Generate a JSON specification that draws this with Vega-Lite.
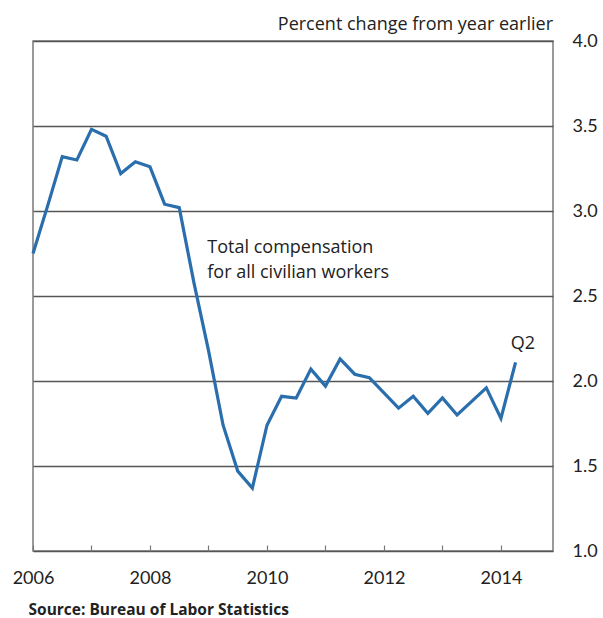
{
  "$schema": "https://vega.github.io/schema/vega-lite/v6.json",
  "width": 520,
  "height": 510,
  "autosize": {"type": "none"},
  "padding": {"left": 33, "top": 41, "right": 50, "bottom": 67},
  "background": "white",
  "config": {"view": {"stroke": "#7a7a7a", "strokeWidth": 1.5}, "font": "Open Sans"},
  "title": {"text": "Percent change from year earlier", "anchor": "end", "frame": "group", "fontSize": 18, "fontWeight": "normal", "color": "#222", "offset": 0, "baseline": "alphabetic", "dy": 16},
  "data": {"values": [
    {"period": 2006.00, "pct": 2.75},
    {"period": 2006.25, "pct": 3.03},
    {"period": 2006.50, "pct": 3.32},
    {"period": 2006.75, "pct": 3.30},
    {"period": 2007.00, "pct": 3.48},
    {"period": 2007.25, "pct": 3.44},
    {"period": 2007.50, "pct": 3.22},
    {"period": 2007.75, "pct": 3.29},
    {"period": 2008.00, "pct": 3.26},
    {"period": 2008.25, "pct": 3.04},
    {"period": 2008.50, "pct": 3.02},
    {"period": 2008.75, "pct": 2.58},
    {"period": 2009.00, "pct": 2.18},
    {"period": 2009.25, "pct": 1.74},
    {"period": 2009.50, "pct": 1.47},
    {"period": 2009.75, "pct": 1.37},
    {"period": 2010.00, "pct": 1.74},
    {"period": 2010.25, "pct": 1.91},
    {"period": 2010.50, "pct": 1.90},
    {"period": 2010.75, "pct": 2.07},
    {"period": 2011.00, "pct": 1.97},
    {"period": 2011.25, "pct": 2.13},
    {"period": 2011.50, "pct": 2.04},
    {"period": 2011.75, "pct": 2.02},
    {"period": 2012.00, "pct": 1.93},
    {"period": 2012.25, "pct": 1.84},
    {"period": 2012.50, "pct": 1.91},
    {"period": 2012.75, "pct": 1.81},
    {"period": 2013.00, "pct": 1.90},
    {"period": 2013.25, "pct": 1.80},
    {"period": 2013.50, "pct": 1.88},
    {"period": 2013.75, "pct": 1.96},
    {"period": 2014.00, "pct": 1.78},
    {"period": 2014.25, "pct": 2.11}
  ]},
  "layer": [
    {
      "mark": {"type": "line", "color": "#2a6ead", "strokeWidth": 3.2},
      "encoding": {
        "x": {"field": "period", "type": "quantitative",
          "scale": {"domain": [2006, 2014.89], "nice": false, "zero": false},
          "axis": {"values": [2006, 2007, 2008, 2009, 2010, 2011, 2012, 2013, 2014],
            "labelExpr": "datum.value % 2 == 0 ? format(datum.value, 'd') : ''",
            "labelOverlap": false, "labelFlush": false,
            "tickSize": -6, "tickColor": "#777", "tickWidth": 1.2,
            "domain": false, "grid": false,
            "labelFont": "Lato", "labelFontSize": 18, "labelColor": "#222", "labelPadding": 24,
            "title": "Source:  Bureau of Labor Statistics",
            "titleFontSize": 15.5, "titleFontWeight": "bold", "titleColor": "#222",
            "titleAnchor": "start", "titleAlign": "left", "titleX": -5, "titleY": 63, "titleBaseline": "alphabetic"}},
        "y": {"field": "pct", "type": "quantitative",
          "scale": {"domain": [1, 4], "nice": false, "zero": false},
          "axis": {"orient": "right", "values": [1, 1.5, 2, 2.5, 3, 3.5, 4], "format": ".1f",
            "grid": true, "gridColor": "#555", "gridWidth": 1.3,
            "ticks": false, "domain": false,
            "labelFont": "Lato", "labelPadding": 19, "labelFontSize": 18, "labelColor": "#222", "title": null}}
      }
    },
    {
      "data": {"values": [
        {"period": 2008.98, "pct": 2.753, "label": "Total compensation\nfor all civilian workers", "align": "left"},
        {"period": 2014.376, "pct": 2.188, "label": "Q2", "align": "center"}
      ]},
      "mark": {"type": "text", "fontSize": 18, "color": "#222", "baseline": "alphabetic", "lineBreak": "\n", "lineHeight": 25, "align": {"expr": "datum.align"}},
      "encoding": {
        "x": {"field": "period", "type": "quantitative"},
        "y": {"field": "pct", "type": "quantitative"},
        "text": {"field": "label"}
      }
    }
  ]
}
